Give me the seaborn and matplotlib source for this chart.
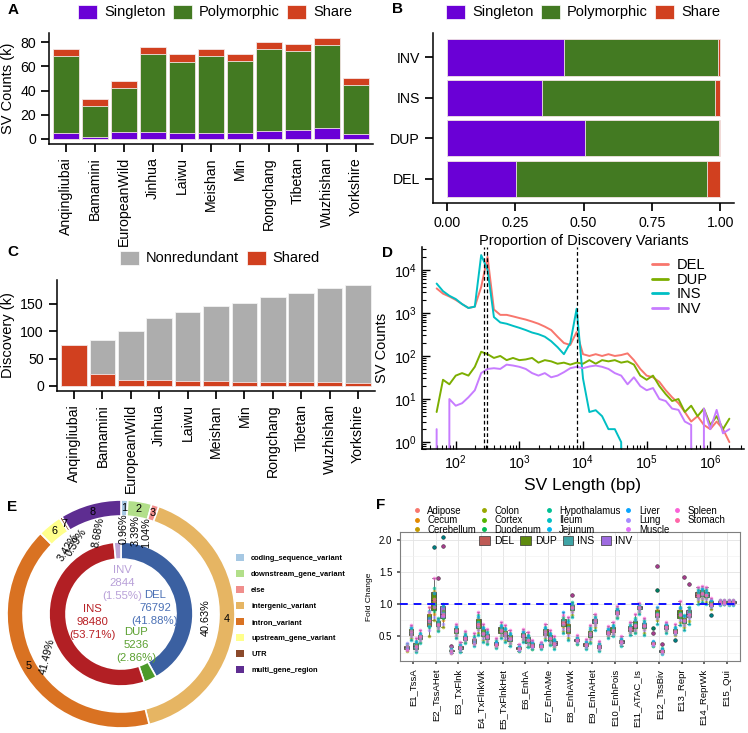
import numpy as np
import pandas as pd
import matplotlib
matplotlib.use("Agg")
import matplotlib.pyplot as plt
from matplotlib.patches import Patch
from matplotlib.lines import Line2D
import seaborn as sns

# ---------------- data ----------------
# A: SV counts (k) per breed
breeds = ["Anqingliubai", "Bamamini", "EuropeanWild", "Jinhua", "Laiwu", "Meishan",
          "Min", "Rongchang", "Tibetan", "Wuzhishan", "Yorkshire"]
singleton_k = [5.0, 1.5, 6.0, 5.5, 4.5, 5.0, 4.5, 6.5, 7.0, 9.0, 4.0]
polymorphic_k = [64.0, 25.5, 36.0, 65.0, 59.5, 64.0, 60.0, 68.0, 66.0, 68.5, 41.0]
share_k = [5.5, 6.0, 6.0, 5.5, 6.0, 5.5, 5.5, 5.5, 6.0, 6.0, 5.5]

# B: proportion of discovery variants per SV type
sv_types = ["DEL", "DUP", "INS", "INV"]
prop_singleton = [0.253, 0.505, 0.350, 0.430]
prop_polymorphic = [0.697, 0.490, 0.630, 0.560]
prop_share = [0.050, 0.005, 0.020, 0.010]

# C: cumulative discovery (k)
discovery_total_k = [74, 84, 101, 123, 135, 145, 152, 162, 170, 179, 184]
discovery_shared_k = [74, 22, 11, 10, 9, 8.5, 8, 8, 8, 7, 6]

# D: SV length distribution (bin centres as log10 bp)
length_log10 = [1.7, 1.8, 1.9, 2.0, 2.1, 2.2, 2.3, 2.4, 2.5, 2.6, 2.7, 2.8, 2.9, 3.0,
                3.1, 3.2, 3.3, 3.4, 3.5, 3.6, 3.7, 3.8, 3.9, 4.0, 4.1, 4.2, 4.3, 4.4,
                4.5, 4.6, 4.7, 4.8, 4.9, 5.0, 5.1, 5.2, 5.3, 5.4, 5.5, 5.6, 5.7, 5.8,
                5.9, 6.0, 6.1, 6.2, 6.3]
del_counts = [3700, 2800, 2400, 2000, 1600, 1300, 1400, 4000, 20000, 1200, 900, 900, 830, 760,
              700, 630, 560, 480, 400, 280, 200, 180, 360, 110, 100, 110, 100, 110,
              100, 105, 115, 80, 50, 35, 32, 25, 16, 11, 8, 5, 3, 4,
              2.5, 2, 3, 2, 1]
dup_counts = [5, 28, 22, 35, 40, 35, 56, 125, 110, 90, 100, 80, 90, 80,
              83, 90, 70, 80, 75, 66, 70, 63, 70, 66, 80, 66, 80, 75,
              80, 70, 75, 63, 35, 28, 35, 20, 13, 9, 10, 5, 7, 4,
              6, 2.5, 4, 2, 3.5]
ins_counts = [4800, 3200, 2500, 2100, 1600, 1300, 1400, 22000, 10000, 800, 600, 560, 500, 450,
              400, 350, 320, 280, 220, 160, 110, 200, 1250, 30, 5, 5.5, 4, 2,
              2, 1, 0, 0, 0, 0, 0, 0, 0, 0, 0, 0, 0, 0,
              0, 0, 0, 0, 0]
inv_counts = [2, 0, 10, 7, 8, 11, 16, 40, 50, 52, 50, 63, 60, 56,
              50, 40, 35, 40, 32, 35, 42, 52, 56, 52, 57, 60, 56, 50,
              40, 35, 22, 32, 20, 16, 18, 10, 9, 6, 5.6, 3, 2.5, 0,
              6, 2, 5.6, 1.6, 2]
ref_lines_bp = [280, 310, 8000]

# E: functional annotation and SV type totals
func_classes = ["coding_sequence_variant", "downstream_gene_variant", "else",
                "intergenic_variant", "intron_variant", "upstream_gene_variant",
                "UTR", "multi_gene_region"]
func_pct = [0.96, 3.39, 1.04, 40.63, 41.49, 3.42, 0.39, 8.68]
sv_totals = [76792, 5236, 98480, 2844]

# F: fold change per chromatin state, SV type and tissue (x100)
states = ["E1_TssA", "E2_TssAHet", "E3_TxFlnk", "E4_TxFlnkWk", "E5_TxFlnkHet", "E6_EnhA",
          "E7_EnhAMe", "E8_EnhAWk", "E9_EnhAHet", "E10_EnhPois", "E11_ATAC_Is",
          "E12_TssBiv", "E13_Repr", "E14_ReprWk", "E15_Qui"]
tissues = ["Adipose", "Cecum", "Cerebellum", "Colon", "Cortex", "Duodenum", "Hypothalamus",
           "Ileum", "Jejunum", "Liver", "Lung", "Muscle", "Spleen", "Stomach"]
fc_del = ["33 31 36 28 34 30 38 33 35 32 40 31 29 36",
          "75 68 85 50 82 64 72 90 66 78 60 88 74 95",
          "28 27 30 25 29 27 33 28 31 26 29 24 35 28",
          "43 40 47 38 45 41 50 36 44 48 42 39 55 46",
          "38 36 41 34 39 37 44 32 40 42 35 38 47 37",
          "32 30 34 28 33 31 36 27 33 35 29 31 38 32",
          "36 34 38 32 37 35 40 31 37 39 33 35 42 36",
          "72 65 77 58 74 68 80 55 75 88 62 70 84 73",
          "38 35 40 32 39 36 43 30 39 41 34 37 46 38",
          "57 53 60 50 58 55 63 48 59 61 52 56 66 57",
          "62 58 66 55 64 60 69 52 63 67 57 61 72 63",
          "40 38 42 36 41 39 63 35 41 43 37 39 55 40",
          "58 55 62 52 60 56 65 45 59 63 54 57 70 58",
          "115 110 120 105 117 112 124 100 116 121 108 113 127 115",
          "103 101 105 100 104 102 106 99 103 105 101 102 107 103"]
fc_dup = ["58 52 62 48 60 55 65 45 59 63 50 56 68 58",
          "105 85 120 75 110 90 125 188 100 118 80 95 140 108",
          "60 55 63 50 61 57 66 48 60 64 53 58 70 60",
          "70 62 78 55 74 65 83 52 72 80 60 67 88 70",
          "60 55 65 50 62 57 68 47 61 66 53 58 72 60",
          "52 48 56 44 54 50 59 42 53 57 46 51 62 52",
          "58 52 62 48 60 55 65 45 59 63 50 56 70 58",
          "63 55 70 48 66 58 75 45 64 72 52 60 80 63",
          "55 48 60 42 57 50 64 40 56 62 46 53 68 55",
          "60 56 65 52 62 58 68 50 61 66 54 59 72 60",
          "68 62 75 57 71 64 79 55 70 76 60 66 85 68",
          "85 80 92 75 88 82 122 70 86 95 78 84 160 85",
          "85 78 92 72 88 80 96 68 86 94 75 83 105 85",
          "118 112 122 108 120 114 125 104 119 123 110 116 128 118",
          "103 101 105 100 104 102 106 100 103 105 101 102 107 104"]
fc_ins = ["35 30 40 27 37 32 43 26 36 41 29 34 47 35",
          "70 65 75 60 72 67 78 58 71 76 63 68 140 70",
          "33 30 36 27 34 31 39 26 34 37 29 32 42 33",
          "55 50 62 45 58 52 65 42 56 63 48 54 70 55",
          "55 50 60 45 57 52 63 42 56 61 48 53 68 55",
          "45 40 50 36 47 42 53 34 46 51 38 44 57 45",
          "48 43 53 39 50 45 56 37 49 54 41 47 60 48",
          "95 90 100 84 97 92 103 80 96 101 88 94 115 95",
          "75 70 78 64 76 72 81 60 75 79 68 73 85 75",
          "88 85 92 80 90 86 94 78 89 93 83 87 97 88",
          "95 92 98 88 96 93 100 85 95 99 90 94 102 95",
          "28 26 30 24 29 27 32 23 28 31 25 27 38 28",
          "75 70 80 64 77 72 83 60 76 81 68 74 143 75",
          "115 110 120 104 117 112 123 100 116 121 108 114 126 115",
          "103 101 105 100 104 102 106 99 103 105 101 102 107 103"]
fc_inv = ["50 46 53 42 51 48 56 40 50 54 44 49 60 50",
          "85 75 97 65 90 78 100 204 86 98 70 82 190 85",
          "48 45 52 42 50 46 55 40 49 53 44 47 58 48",
          "50 45 55 40 52 47 58 38 51 56 43 49 62 50",
          "47 42 53 38 50 44 56 36 48 54 40 46 60 47",
          "37 34 40 31 38 35 42 30 37 41 33 36 45 37",
          "40 36 44 33 42 38 46 31 41 45 35 39 50 40",
          "45 42 47 39 46 43 49 38 45 48 41 44 52 45",
          "35 32 38 29 36 33 40 28 35 39 31 34 43 35",
          "43 40 45 37 44 41 47 35 43 46 39 42 50 43",
          "68 62 72 56 70 64 75 52 69 73 60 66 78 68",
          "65 62 68 58 66 63 70 55 65 69 60 64 73 65",
          "85 80 92 74 88 82 95 70 86 93 78 84 132 85",
          "100 97 105 93 102 98 107 83 101 106 95 99 110 100",
          "103 101 105 100 104 102 106 99 103 105 101 102 107 103"]

# ---------------- style ----------------
sns.set_theme(style="ticks")
plt.rcParams["font.family"] = ["Liberation Sans", "DejaVu Sans"]
plt.rcParams.update({
    "axes.edgecolor": "black", "xtick.color": "black", "ytick.color": "black",
    "text.color": "black", "axes.labelcolor": "black", "axes.linewidth": 1.1,
    "xtick.labelsize": 10.2, "ytick.labelsize": 10.2, "axes.labelsize": 10.5,
})

PURPLE, GREEN, RED, GREY = "#6A00D6", "#437A22", "#D1401F", "#ADADAD"
type_line_colors = {"DEL": "#F8766D", "DUP": "#7CAE00", "INS": "#00BFC4", "INV": "#C77CFF"}
type_box_colors = {"DEL": "#BE5A55", "DUP": "#5E8A0E", "INS": "#3FA4A6", "INV": "#9E6BE0"}
func_colors = ["#A6C8E3", "#B2DF8A", "#F08E8C", "#E6B563", "#D97222", "#FFFF8C", "#8B4A2B", "#5E2D91"]
sv_ring_colors = ["#3B60A1", "#4C9A2A", "#B21F24", "#BCA5D6"]
sv_text_colors = ["#4A70B5", "#5BA030", "#B82025", "#B8A0D8"]
tissue_colors = ["#F8766D", "#E38900", "#C49A00", "#99A800", "#53B400", "#00BC56", "#00C094",
                 "#00BFC4", "#00B6EB", "#06A4FF", "#A58AFF", "#DF70F8", "#FB61D7", "#FF66A8"]

W, H = 748, 733
fig = plt.figure(figsize=(W / 100, H / 100), dpi=100)


def px_axes(l, t, r, b):
    return fig.add_axes([l / W, 1 - b / H, (r - l) / W, (b - t) / H])


def top_legend(handles, labels, cx, cy):
    fig.legend(handles, labels, loc="center", bbox_to_anchor=(cx / W, 1 - cy / H),
               ncol=len(handles), frameon=False, fontsize=10.5, handlelength=1.3,
               handleheight=1.1, handletextpad=0.5, columnspacing=0.5, borderpad=0)


def patch(c):
    return Patch(facecolor=c, edgecolor="white", linewidth=0.5)


# ---------------- A ----------------
axA = px_axes(49, 33, 373, 144)
dfa = pd.DataFrame({"breed": breeds, "single": singleton_k, "poly": polymorphic_k, "share": share_k})
dfa["poly_top"] = dfa["single"] + dfa["poly"]
dfa["share_top"] = dfa["poly_top"] + dfa["share"]
for col, c in [("share_top", RED), ("poly_top", GREEN), ("single", PURPLE)]:
    sns.barplot(data=dfa, x="breed", y=col, color=c, saturation=1, width=0.9,
                edgecolor="#F3E6E6", linewidth=0.6, ax=axA)
axA.set_xlim(-0.6, 10.6)
axA.set_ylim(-4.2, 87.7)
axA.set_yticks([0, 20, 40, 60, 80])
axA.set_xlabel("")
axA.set_ylabel("SV Counts (k)")
axA.tick_params(axis="x", rotation=90)
sns.despine(ax=axA)
top_legend([patch(PURPLE), patch(GREEN), patch(RED)], ["Singleton", "Polymorphic", "Share"], 215, 12)

# ---------------- B ----------------
axB = px_axes(433, 33, 734, 203)
dfb = pd.DataFrame({"type": sv_types, "s": prop_singleton, "p": prop_polymorphic, "sh": prop_share})
dfb["p_top"] = dfb["s"] + dfb["p"]
dfb["sh_top"] = dfb["p_top"] + dfb["sh"]
b_order = ["INV", "INS", "DUP", "DEL"]
for col, c in [("sh_top", RED), ("p_top", GREEN), ("s", PURPLE)]:
    sns.barplot(data=dfb, y="type", x=col, order=b_order, orient="h", color=c, saturation=1,
                width=0.9, edgecolor="#F3E6E6", linewidth=0.6, ax=axB)
axB.set_xlim(-0.05, 1.05)
axB.set_ylim(3.6, -0.6)
axB.set_xticks([0, 0.25, 0.5, 0.75, 1.0])
axB.set_xticklabels(["0.00", "0.25", "0.50", "0.75", "1.00"])
axB.set_ylabel("")
axB.set_xlabel("Proportion of Discovery Variants", labelpad=3)
sns.despine(ax=axB)
top_legend([patch(PURPLE), patch(GREEN), patch(RED)], ["Singleton", "Polymorphic", "Share"], 583, 12)

# ---------------- C ----------------
axC = px_axes(57, 280, 375, 391)
dfc = pd.DataFrame({"breed": breeds, "total": discovery_total_k, "shared": discovery_shared_k})
sns.barplot(data=dfc, x="breed", y="total", color=GREY, saturation=1, width=0.9,
            edgecolor="#F2F2F2", linewidth=0.6, ax=axC)
sns.barplot(data=dfc, x="breed", y="shared", color=RED, saturation=1, width=0.9,
            edgecolor="#F3E6E6", linewidth=0.6, ax=axC)
axC.set_xlim(-0.6, 10.6)
axC.set_ylim(-9.2, 193)
axC.set_yticks([0, 50, 100, 150])
axC.set_xlabel("")
axC.set_ylabel("Discovery (k)")
axC.tick_params(axis="x", rotation=90)
sns.despine(ax=axC)
top_legend([patch(GREY), patch(RED)], ["Nonredundant", "Shared"], 220, 258)

# ---------------- D ----------------
axD = px_axes(422, 247, 744, 449)
length_bp = 10 ** np.array(length_log10)
dfd = pd.concat([pd.DataFrame({"len": length_bp, "count": vals, "type": t})
                 for t, vals in zip(sv_types, [del_counts, dup_counts, ins_counts, inv_counts])])
sns.lineplot(data=dfd, x="len", y="count", hue="type", hue_order=sv_types,
             palette=type_line_colors, linewidth=1.4, legend=False, ax=axD)
for xv in ref_lines_bp:
    axD.axvline(xv, color="black", lw=0.9, ls=(0, (3, 2)))
axD.set_xscale("log")
axD.set_yscale("log")
axD.set_xlim(10 ** 1.47, 10 ** 6.53)
axD.set_ylim(10 ** -0.16, 10 ** 4.53)
axD.set_xticks([1e2, 1e3, 1e4, 1e5, 1e6])
axD.set_yticks([1e0, 1e1, 1e2, 1e3, 1e4])
axD.tick_params(which="major", direction="in", length=6, width=1)
axD.tick_params(which="minor", direction="in", length=3, width=0.8)
axD.set_xlabel("SV Length (bp)", fontsize=12.5)
axD.set_ylabel("SV Counts", fontsize=10.5)
sns.despine(ax=axD)
axD.legend([Line2D([], [], color=type_line_colors[t], lw=2) for t in sv_types], sv_types,
           loc="upper left", bbox_to_anchor=(652 / W, 1 - 258 / H), bbox_transform=fig.transFigure,
           frameon=False, fontsize=10.5, handlelength=1.1, handletextpad=0.6, labelspacing=0.05,
           borderpad=0, borderaxespad=0)

# ---------------- E ----------------
axE = px_axes(0, 494, 242, 733)
wedges, _ = axE.pie(func_pct, radius=114, startangle=90, counterclock=False, colors=func_colors,
                    wedgeprops=dict(width=16, edgecolor="white", linewidth=1.2))
axE.pie(sv_totals, radius=72, startangle=90, counterclock=False, colors=sv_ring_colors,
        wedgeprops=dict(width=17, edgecolor="white", linewidth=1.2))
frac = np.array(func_pct) / sum(func_pct)
mid = 2 * np.pi * (np.cumsum(frac) - frac / 2)
pct_rot = [90, 90, 90, 90, 76, 58, 58, 80]
for i, (a, p) in enumerate(zip(mid, func_pct)):
    axE.text(106 * np.sin(a), 106 * np.cos(a), str(i + 1), ha="center", va="center", fontsize=7.8)
    axE.text(85 * np.sin(a), 85 * np.cos(a), f"{p:.2f}%", ha="center", va="center",
             fontsize=7.8, rotation=pct_rot[i], rotation_mode="anchor")
sv_share = np.array(sv_totals) / sum(sv_totals) * 100
centre_pos = [(34, 6), (15, -31), (-29, -8), (1, 31)]
for name, n, s, (x, y), c in zip(sv_types, sv_totals, sv_share, centre_pos, sv_text_colors):
    axE.text(x, y, f"{name}\n{n}\n({s:.2f}%)", ha="center", va="center", color=c,
             fontsize=8.2, linespacing=1.4)
axE.set_xlim(-121, 121)
axE.set_ylim(-119, 120)
axE.set_axis_off()
axE.legend([Patch(facecolor=c, edgecolor="none") for c in func_colors], func_classes,
           loc="upper left", bbox_to_anchor=(236 / W, 1 - 554 / H), bbox_transform=fig.transFigure,
           frameon=False, prop=dict(size=5.4, weight="bold"), handlelength=1.1, handleheight=1.1,
           labelspacing=1.05, handletextpad=0.9, borderpad=0, borderaxespad=0)

# ---------------- F ----------------
axF = px_axes(400, 532, 740, 661)
rows = []
for t, strings in zip(sv_types, [fc_del, fc_dup, fc_ins, fc_inv]):
    for s, txt in zip(states, strings):
        for tissue, v in zip(tissues, txt.split()):
            rows.append((s, t, tissue, int(v) / 100))
dff = pd.DataFrame(rows, columns=["state", "type", "tissue", "fc"])
np.random.seed(3)
sns.boxplot(data=dff, x="state", y="fc", hue="type", order=states, hue_order=sv_types,
            palette=type_box_colors, saturation=1, width=0.8, linewidth=0.5, linecolor="#333333",
            fliersize=2, flierprops=dict(marker="o", markerfacecolor="black", markeredgecolor="black"),
            legend=False, ax=axF)
for tissue, c in zip(tissues, tissue_colors):
    sns.stripplot(data=dff[dff["tissue"] == tissue], x="state", y="fc", hue="type", order=states,
                  hue_order=sv_types, palette={t: c for t in sv_types}, dodge=True, jitter=0.7,
                  size=2.6, alpha=0.65, legend=False, ax=axF)
axF.axhline(1.0, color="#1010FF", lw=1.4, ls=(0, (4, 3)), zorder=5)
axF.set_xlim(-0.6, 14.6)
axF.set_ylim(0.12, 2.12)
axF.set_yticks([0.5, 1.0, 1.5, 2.0])
axF.set_yticks([0.25, 0.75, 1.25, 1.75], minor=True)
axF.grid(True, which="major", color="#E3E3E3", lw=0.6)
axF.grid(True, which="minor", axis="y", color="#F0F0F0", lw=0.4)
axF.set_axisbelow(True)
for sp in axF.spines.values():
    sp.set_visible(True)
    sp.set_color("#7F7F7F")
    sp.set_linewidth(0.8)
axF.tick_params(axis="x", rotation=90, labelsize=6.8, length=2, color="#555555")
axF.tick_params(axis="y", labelsize=7, length=2, color="#555555")
axF.tick_params(axis="y", which="minor", length=0)
axF.set_xlabel("")
axF.set_ylabel("Fold Change", fontsize=6)
axF.legend([Patch(facecolor=type_box_colors[t], edgecolor="#333333", linewidth=0.5) for t in sv_types],
           sv_types, loc="center", bbox_to_anchor=(556 / W, 1 - 541 / H), bbox_transform=fig.transFigure,
           ncol=4, frameon=False, fontsize=7.5, handlelength=1.0, handleheight=0.9,
           handletextpad=0.4, columnspacing=0.6, borderpad=0)
fig.legend([Line2D([], [], marker="o", ls="", color=c, markersize=2.5) for c in tissue_colors], tissues,
           loc="upper left", bbox_to_anchor=(407 / W, 1 - 501 / H), ncol=5, frameon=False,
           fontsize=6.9, handlelength=1.0, handletextpad=0.6, labelspacing=-0.05, columnspacing=0.3,
           borderpad=0)

# panel letters
for letter, x, y in [("A", 8, 10), ("B", 392, 9), ("C", 7, 252), ("D", 382, 253),
                     ("E", 7, 507), ("F", 376, 505)]:
    fig.text(x / W, 1 - y / H, letter, fontsize=11, fontweight="bold", ha="left", va="center")

fig.savefig("out.png", dpi=100)
